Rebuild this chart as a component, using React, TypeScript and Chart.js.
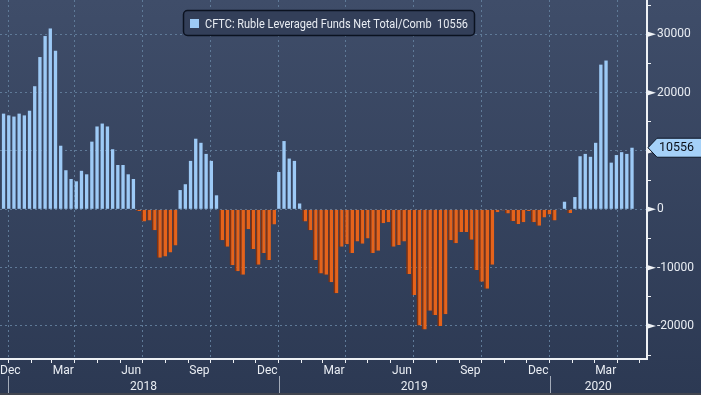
import React, { useEffect, useRef } from 'react';
import { Chart, registerables } from 'chart.js';

Chart.register(...registerables);

// ---------------- data ----------------
const SERIES_LABEL = 'CFTC: Ruble Leveraged Funds Net Total/Comb';
const LAST_VALUE = 10556;
const DAY = 86400000;
const AXIS_ORIGIN = Date.UTC(2018, 0, 1);
const FIRST_REPORT = Date.UTC(2017, 11, 26); // weekly reports, one per bar

// Dec 26 2017 .. Dec 25 2018 (53 weekly values)
const net2018 = [
  16400, 16100, 15900, 16400, 16100, 16900, 21100, 26100, 29700, 31000, 27200,
  10900, 6700, 5200, 4800, 6600, 6000, 11600, 14200, 14700, 14200, 10300, 7600,
  7600, 6000, 5200, -300, -2100, -1900, -3600, -8300, -8100, -7400, -6200, 3300,
  4300, 8300, 12100, 11400, 9500, 8300, 2400, -5300, -6400, -9600, -10600, -11200,
  -3400, -6800, -9500, -7500, -8700, -2600,
];
// Jan 1 2019 .. Dec 31 2019 (53 weekly values)
const net2019 = [
  6400, 11700, 8700, 8300, 1000, -2100, -3600, -8700, -11000, -11200, -12500,
  -14400, -6400, -6000, -7500, -5500, -5900, -5000, -7500, -7100, -2400, -2200,
  -6400, -6100, -5500, -11100, -14700, -19900, -20600, -17400, -18100, -20000,
  -18000, -5300, -5800, -3900, -3900, -5200, -10400, -12400, -13600, -9500, -500,
  -200, -700, -2000, -2500, -2200, -300, -2200, -2800, -1400, -900,
];
// Jan 7 2020 .. Apr 21 2020 (16 weekly values)
const net2020 = [
  -1900, 100, 1300, -650, 2100, 9100, 9500, 9000, 11400, 24800, 25500, 8000,
  9300, 9800, 9500, LAST_VALUE,
];

const MONTH_NAMES = ['Jan', 'Feb', 'Mar', 'Apr', 'May', 'Jun', 'Jul', 'Aug', 'Sep', 'Oct', 'Nov', 'Dec'];
const LABELED_MONTHS = [11, 2, 5, 8];
const YEARS = [2018, 2019, 2020];
const Y_TICK_STEP = 5000;
const Y_LABEL_STEP = 10000;
const Y_MIN = -25660;
const Y_MAX = 35880;
const X_MIN = -10.8; // days from Jan 1 2018
const X_MAX = 861.2;

// ---------------- styles ----------------
const BLUE = '#9dcaf6';
const ORANGE = '#e5631b';
const ORANGE_EDGE = '#86310c';
const GRID = '#5f7a98';
const AXIS = '#eef1f5';
const TEXT = '#e9edf3';
const FONT = 'Roboto';

const dayOf = (y: number, m: number, d = 1) => (Date.UTC(y, m, d) - AXIS_ORIGIN) / DAY;

const weekly = [...net2018, ...net2019, ...net2020];
const reportDays = weekly.map((_, i) => (FIRST_REPORT - AXIS_ORIGIN) / DAY + 7 * i);
const positivePts = weekly.map((v, i) => ({ x: reportDays[i], y: v >= 0 ? v : null }));
const negativePts = weekly.map((v, i) => ({ x: reportDays[i], y: v < 0 ? v : null }));

const monthStarts: number[] = [];
for (let y = 2017; y <= 2020; y++) {
  for (let m = 0; m < 12; m++) {
    const d = dayOf(y, m);
    if (d >= X_MIN && d <= X_MAX) monthStarts.push(d);
  }
}
const yTicks: number[] = [];
for (let v = Math.ceil(Y_MIN / Y_TICK_STEP) * Y_TICK_STEP; v <= Y_MAX; v += Y_TICK_STEP) yTicks.push(v);

const isQuarterStart = (day: number) => new Date(AXIS_ORIGIN + day * DAY).getUTCMonth() % 3 === 0;

function fitText(ctx: CanvasRenderingContext2D, text: string, x: number, y: number, maxW: number) {
  const w = ctx.measureText(text).width;
  const k = w > maxW ? maxW / w : 1;
  ctx.save();
  ctx.translate(x, y);
  ctx.scale(k, 1);
  ctx.fillText(text, 0, 0);
  ctx.restore();
}

const decorPlugin = {
  id: 'decor',
  beforeDraw(chart: any) {
    const { ctx, width, height } = chart;
    ctx.save();
    const g = ctx.createLinearGradient(0, 0, 0, height);
    g.addColorStop(0, '#3f4d69');
    g.addColorStop(1, '#2c3953');
    ctx.fillStyle = g;
    ctx.fillRect(0, 0, width, height);
    ctx.restore();
  },
  afterDraw(chart: any) {
    const { ctx, chartArea, width, height } = chart;
    const xs = chart.scales.x;
    const ys = chart.scales.y;
    ctx.save();

    // month labels
    ctx.font = `12px ${FONT}`;
    ctx.fillStyle = TEXT;
    ctx.textAlign = 'center';
    ctx.textBaseline = 'alphabetic';
    for (let y = 2017; y <= 2020; y++) {
      for (let m = 0; m < 12; m++) {
        if (!LABELED_MONTHS.includes(m)) continue;
        const s = dayOf(y, m);
        const e = dayOf(y, m + 1);
        if (e <= X_MIN || s >= X_MAX) continue;
        const name = MONTH_NAMES[m];
        const w = ctx.measureText(name).width;
        let px = xs.getPixelForValue((s + e) / 2);
        px = Math.max(chartArea.left + w / 2, Math.min(chartArea.right - w / 2, px));
        ctx.fillText(name, px, chartArea.bottom + 14.5);
      }
    }

    // year separators and labels
    ctx.strokeStyle = '#a3abb9';
    ctx.lineWidth = 1;
    for (const y of YEARS) {
      const s = dayOf(y, 0);
      const e = dayOf(y + 1, 0);
      if (s >= X_MIN && s <= X_MAX) {
        const px = Math.round(xs.getPixelForValue(s)) + 0.5;
        ctx.beginPath();
        ctx.moveTo(px, chartArea.bottom + 17);
        ctx.lineTo(px, height - 2);
        ctx.stroke();
      }
      const cs = Math.max(s, X_MIN);
      const ce = Math.min(e, X_MAX);
      if (ce > cs) {
        ctx.fillText(String(y), xs.getPixelForValue((cs + ce) / 2), chartArea.bottom + 31);
      }
    }

    // major tick markers on the value axis
    ctx.fillStyle = AXIS;
    for (const v of yTicks) {
      if (v % Y_LABEL_STEP !== 0) continue;
      const py = ys.getPixelForValue(v);
      ctx.beginPath();
      ctx.moveTo(chartArea.right + 1, py - 2.5);
      ctx.lineTo(chartArea.right + 9, py);
      ctx.lineTo(chartArea.right + 1, py + 2.5);
      ctx.closePath();
      ctx.fill();
    }

    // last value tag
    const ty = ys.getPixelForValue(LAST_VALUE);
    const tx = chartArea.right + 1;
    ctx.beginPath();
    ctx.moveTo(tx, ty);
    ctx.lineTo(tx + 9, ty - 9.5);
    ctx.lineTo(width + 2, ty - 9.5);
    ctx.lineTo(width + 2, ty + 9.5);
    ctx.lineTo(tx + 9, ty + 9.5);
    ctx.closePath();
    ctx.fillStyle = '#a5d1f8';
    ctx.fill();
    ctx.strokeStyle = '#0d1524';
    ctx.lineWidth = 1;
    ctx.stroke();
    ctx.fillStyle = '#0a0f18';
    ctx.textAlign = 'left';
    ctx.textBaseline = 'middle';
    ctx.font = `13px ${FONT}`;
    fitText(ctx, String(LAST_VALUE), tx + 11, ty + 0.5, 35);

    // legend
    const lx = 183.5, ly = 10.5, lw = 291, lh = 25;
    ctx.beginPath();
    if (ctx.roundRect) ctx.roundRect(lx, ly, lw, lh, 4);
    else ctx.rect(lx, ly, lw, lh);
    ctx.fillStyle = '#333f59';
    ctx.fill();
    ctx.strokeStyle = '#0b1220';
    ctx.lineWidth = 1.5;
    ctx.stroke();
    ctx.fillStyle = BLUE;
    ctx.fillRect(190, 19, 9, 9);
    ctx.font = `12px ${FONT}`;
    ctx.fillStyle = TEXT;
    ctx.textAlign = 'left';
    ctx.textBaseline = 'alphabetic';
    fitText(ctx, SERIES_LABEL + '  ' + LAST_VALUE, 205, 28, 263);

    // bottom edge strip
    ctx.fillStyle = '#41454f';
    ctx.fillRect(0, height - 2, width, 2);
    ctx.restore();
  },
};

export default function App() {
  const ref = useRef<HTMLCanvasElement | null>(null);

  useEffect(() => {
    if (!ref.current) return;
    Chart.defaults.font.family = FONT;
    const chart = new Chart(ref.current, {
      type: 'bar',
      data: {
        datasets: [
          {
            label: SERIES_LABEL,
            data: positivePts as any,
            backgroundColor: BLUE,
            borderWidth: 0,
            barPercentage: 0.64,
            categoryPercentage: 1,
            grouped: false,
          } as any,
          {
            label: SERIES_LABEL + ' (neg)',
            data: negativePts as any,
            backgroundColor: ORANGE,
            borderColor: ORANGE_EDGE,
            borderWidth: { left: 1.6, right: 0, top: 0, bottom: 0 },
            borderSkipped: false,
            barPercentage: 0.95,
            categoryPercentage: 1,
            grouped: false,
          } as any,
        ],
      },
      options: {
        responsive: false,
        animation: false,
        devicePixelRatio: 1,
        events: [],
        layout: { padding: 0 },
        plugins: { legend: { display: false }, tooltip: { enabled: false } },
        scales: {
          x: {
            type: 'linear',
            position: 'bottom',
            min: X_MIN,
            max: X_MAX,
            offset: false,
            afterBuildTicks: (s: any) => {
              s.ticks = monthStarts.map((v) => ({ value: v }));
            },
            afterFit: (s: any) => {
              s.height = 36;
              s.paddingLeft = 0;
              s.paddingRight = 0;
            },
            grid: {
              offset: false,
              color: (c: any) => (c.tick && isQuarterStart(c.tick.value) ? GRID : 'transparent'),
              tickColor: AXIS,
              tickLength: 4,
              lineWidth: 1,
            },
            border: { display: true, color: AXIS, width: 2, dash: [2, 3] },
            ticks: { display: false },
          },
          y: {
            type: 'linear',
            position: 'right',
            min: Y_MIN,
            max: Y_MAX,
            afterBuildTicks: (s: any) => {
              s.ticks = yTicks.map((v) => ({ value: v }));
            },
            afterFit: (s: any) => {
              s.width = 54;
              s.paddingTop = 0;
              s.paddingBottom = 0;
            },
            grid: {
              color: (c: any) => (c.tick && c.tick.value % Y_LABEL_STEP === 0 ? GRID : 'transparent'),
              tickColor: (c: any) => (c.tick && c.tick.value % Y_LABEL_STEP === 0 ? 'transparent' : AXIS),
              tickLength: 4,
              lineWidth: 1,
            },
            border: { display: true, color: AXIS, width: 2, dash: [2, 3] },
            ticks: {
              color: TEXT,
              font: { family: FONT, size: 12 },
              padding: 6,
              autoSkip: false,
              callback: (v: any) => (Number(v) % Y_LABEL_STEP === 0 ? String(v) : ''),
            },
          },
        },
      },
      plugins: [decorPlugin],
    } as any);
    return () => chart.destroy();
  }, []);

  return (
    <div style={{ position: 'fixed', left: 0, top: 0, width: 701, height: 395 }}>
      <canvas ref={ref} width={701} height={395} style={{ display: 'block', width: 701, height: 395 }} />
    </div>
  );
}
